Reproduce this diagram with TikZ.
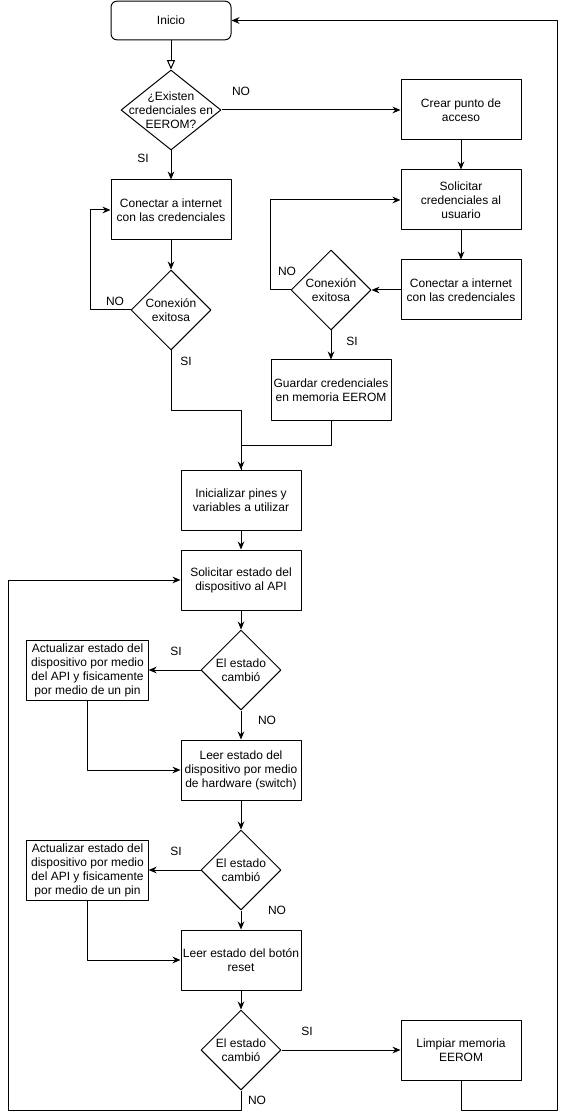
\documentclass[tikz,border=0pt]{standalone}
\usepackage{fontspec}
\setmainfont{Liberation Sans}
\usetikzlibrary{shapes.geometric,arrows.meta}

\begin{document}
\begin{tikzpicture}[x=0.75pt, y=-0.75pt, line join=round,
    font=\fontsize{9}{10.5}\selectfont,
    caja/.style={draw, line width=0.75pt, minimum width=90pt, minimum height=45pt, align=center, inner sep=1pt},
    cajaini/.style={caja, rounded corners=4.5pt, minimum height=29pt},
    rombo/.style={draw, diamond, line width=0.75pt, inner sep=0pt, minimum width=60pt, minimum height=60pt},
    flecha/.style={draw, line width=0.75pt, -{Stealth[length=6pt,width=5pt]}},
    linea/.style={draw, line width=0.75pt}
]

    \useasboundingbox (0,0) rectangle (566,1119);

    % inicio y primera decision
    \node[cajaini] (inicio) at (171,20.5) {Inicio};
    \node[rombo, minimum width=75pt, label={[align=center]center:¿Existen\\credenciales en\\EEROM?}] (d1) at (171,110) {};

    % columna izquierda (hay credenciales)
    \node[caja] (con1) at (171,210) {Conectar a internet\\con las credenciales};
    \node[rombo, label={[align=center]center:Conexión\\exitosa}] (d2) at (171,310) {};

    % columna derecha (punto de acceso)
    \node[caja] (crear) at (461,110) {Crear punto de\\acceso};
    \node[caja] (solcred) at (461,200) {Solicitar\\credenciales al\\usuario};
    \node[caja] (con2) at (461,290) {Conectar a internet\\con las credenciales};
    \node[rombo, label={[align=center]center:Conexión\\exitosa}] (d3) at (331,290) {};
    \node[caja] (guardar) at (331,390) {Guardar credenciales\\en memoria EEROM};

    % ciclo principal
    \node[caja] (ini) at (241,500) {Inicializar pines y\\variables a utilizar};
    \node[caja] (solest) at (241,580) {Solicitar estado del\\dispositivo al API};
    \node[rombo, label={[align=center]center:El estado\\cambió}] (d4) at (241,670) {};
    \node[caja, minimum width=91pt] (act1) at (87.5,670) {Actualizar estado del\\dispositivo por medio\\del API y fisicamente\\por medio de un pin};
    \node[caja] (leer1) at (241,770) {Leer estado del\\dispositivo por medio\\de hardware (switch)};
    \node[rombo, label={[align=center]center:El estado\\cambió}] (d5) at (241,870) {};
    \node[caja, minimum width=91pt] (act2) at (87.5,870) {Actualizar estado del\\dispositivo por medio\\del API y fisicamente\\por medio de un pin};
    \node[caja] (leer2) at (241,960) {Leer estado del botón\\reset};
    \node[rombo, label={[align=center]center:El estado\\cambió}] (d6) at (241,1050) {};
    \node[caja] (limpiar) at (461,1050) {Limpiar memoria\\EEROM};

    % etiquetas SI / NO
    \foreach \t/\x/\y [count=\i] in {NO/241/91, SI/143/158, NO/115/301, SI/186/361, NO/287/271, SI/352/341,
                                     SI/176/651, NO/267/720, SI/176/851, NO/277/910, SI/307/1031, NO/257/1100} {
        \node[inner sep=0pt] (etq\i) at (\x,\y) {\t};
    }

    % puntos de retorno
    \coordinate (izq) at (8,1110);
    \coordinate (der) at (557,1110);

    % conectores
    \draw[line width=0.75pt, -{Triangle[open,length=7pt,width=6pt]}] (inicio.south) -- (d1.north);
    \draw[flecha] (d1.east) -- (crear.west);
    \draw[flecha] (d1.south) -- (con1.north);
    \draw[flecha] (con1.south) -- (d2.north);
    \draw[flecha] (d2.west) -- ++(-40,0) |- (con1.west);
    \draw[flecha] (d2.south) -- ++(0,60) -| (ini.north);

    \draw[flecha] (crear.south) -- (solcred.north);
    \draw[flecha] (solcred.south) -- (con2.north);
    \draw[flecha] (con2.west) -- (d3.east);
    \draw[flecha] (d3.west) -- ++(-20,0) |- (solcred.west);
    \draw[flecha] (d3.south) -- (guardar.north);
    \draw[linea] (guardar.south) -- ++(0,25) -| (ini.north);

    \draw[flecha] (ini.south) -- (solest.north);
    \draw[flecha] (solest.south) -- (d4.north);
    \draw[flecha] (d4.west) -- (act1.east);
    \draw[flecha] (d4.south) -- (leer1.north);
    \draw[flecha] (act1.south) |- (leer1.west);
    \draw[flecha] (leer1.south) -- (d5.north);
    \draw[flecha] (d5.west) -- (act2.east);
    \draw[flecha] (d5.south) -- (leer2.north);
    \draw[flecha] (act2.south) |- (leer2.west);
    \draw[flecha] (leer2.south) -- (d6.north);
    \draw[flecha] (d6.east) -- (limpiar.west);
    \draw[flecha] (d6.south) |- (izq) |- (solest.west);
    \draw[flecha] (limpiar.south) |- (der) |- (inicio.east);

\end{tikzpicture}
\end{document}
